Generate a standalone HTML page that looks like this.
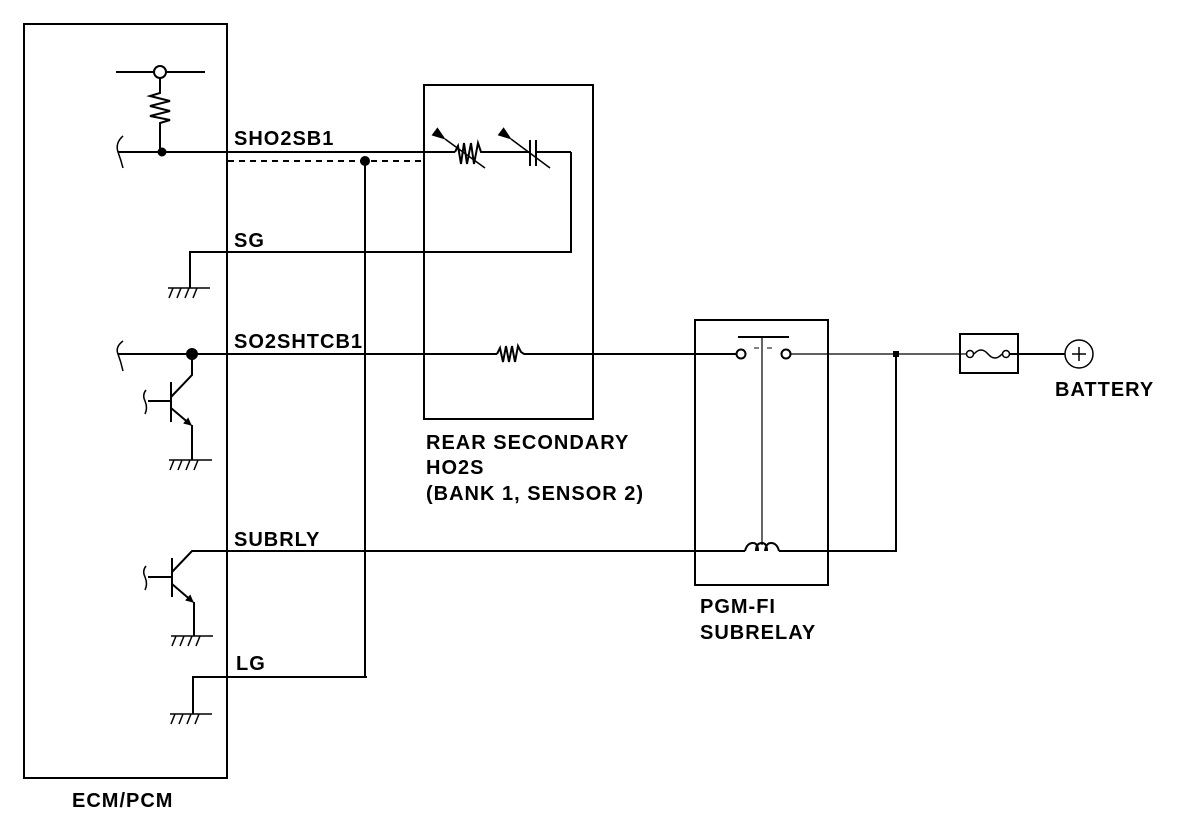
<!DOCTYPE html>
<html><head><style>
body{margin:0;background:#fff;}
svg{display:block;}
text{font-family:"Liberation Sans",Arial,sans-serif;font-weight:bold;font-size:20px;letter-spacing:1px;fill:#000;}
</style></head><body>
<svg width="1200" height="836" viewBox="0 0 1200 836" xmlns="http://www.w3.org/2000/svg">
<defs>
<marker id="ar" markerWidth="8" markerHeight="8" refX="7" refY="4" orient="auto" markerUnits="userSpaceOnUse">
<path d="M0,0 L8,4 L0,8 z" fill="#000"/></marker>
<marker id="ar2" markerWidth="14" markerHeight="10" refX="13" refY="5" orient="auto" markerUnits="userSpaceOnUse">
<path d="M0,0 L14,5 L0,10 z" fill="#000"/></marker>
</defs>
<g stroke="#000" stroke-width="2" fill="none">
<rect x="24" y="24" width="203" height="754"/>
<line x1="116" y1="72" x2="205" y2="72"/>
<circle cx="160" cy="72" r="6" fill="#fff"/>
<path d="M160,78 V93 L150,96 L170,101 L150,106 L170,111 L150,116 L170,120 L160,123 V152"/>
<circle cx="162" cy="152" r="3.5" fill="#000"/>
<path d="M123,136 Q115,143 118,152 Q121,160 123,168" stroke-width="1.5"/>
<line x1="118" y1="152" x2="455" y2="152"/>
<line x1="228" y1="161" x2="424" y2="161" stroke-dasharray="6,5"/>
<circle cx="365" cy="161" r="4" fill="#000"/>
<line x1="365" y1="161" x2="365" y2="676"/>
<rect x="424" y="85" width="169" height="334"/>
<path d="M455,152 L458,146 L461,164 L464,143 L467,164 L471,143 L474,164 L478,143 L481,152 H530"/>
<line x1="445" y1="139" x2="485" y2="168" stroke-width="1.5" marker-start="url(#ar2)"/>
<line x1="530" y1="140" x2="530" y2="166"/>
<line x1="536" y1="140" x2="536" y2="166"/>
<line x1="536" y1="152" x2="571" y2="152"/>
<line x1="511" y1="139" x2="550" y2="168" stroke-width="1.5" marker-start="url(#ar2)"/>
<polyline points="571,152 571,252 190,252 190,288"/>
<g stroke-width="1.5">
<line x1="168" y1="288" x2="210" y2="288"/><path d="M173,288 l-4,10 M181,288 l-4,10 M189,288 l-4,10 M197,288 l-4,10"/>
<line x1="169" y1="460" x2="212" y2="460"/><path d="M174,460 l-4,10 M182,460 l-4,10 M190,460 l-4,10 M198,460 l-4,10"/>
<line x1="171" y1="636" x2="213" y2="636"/><path d="M176,636 l-4,10 M184,636 l-4,10 M192,636 l-4,10 M200,636 l-4,10"/>
<line x1="170" y1="714" x2="212" y2="714"/><path d="M175,714 l-4,10 M183,714 l-4,10 M191,714 l-4,10 M199,714 l-4,10"/>
</g>
<line x1="118" y1="354" x2="497" y2="354"/>
<path d="M497,354 L500,348 L503,362 L506,346 L509,362 L512,346 L515,362 L518,346 L521,352 L524,354 H736"/>
<path d="M123,341 Q115,347 118,354 Q121,362 123,371" stroke-width="1.5"/>
<circle cx="192" cy="354" r="5" fill="#000"/>
<polyline points="192,354 192,375 171,397"/>
<line x1="171" y1="382" x2="171" y2="422"/>
<line x1="148" y1="401" x2="171" y2="401"/>
<path d="M146,390 Q142,395 145,401 Q148,408 145,414" stroke-width="1.5"/>
<line x1="171" y1="408" x2="191" y2="425" marker-end="url(#ar)"/>
<line x1="192" y1="425" x2="192" y2="460"/>
<polyline points="172,572 192,551 745,551"/>
<line x1="172" y1="558" x2="172" y2="597"/>
<line x1="148" y1="577" x2="172" y2="577"/>
<path d="M146,566 Q142,571 145,577 Q148,584 145,590" stroke-width="1.5"/>
<line x1="172" y1="584" x2="193" y2="602" marker-end="url(#ar)"/>
<line x1="194" y1="602" x2="194" y2="636"/>
<path d="M745,551 Q747,543 753,543 Q758,543 758,551 M756,551 Q756,543 762,543 Q767,543 767,551 M765,551 Q766,543 771,543 Q777,543 779,551"/>
<polyline points="779,551 896,551 896,354"/>
<polyline points="193,714 193,677 367,677"/>
<rect x="695" y="320" width="133" height="265"/>
<circle cx="741" cy="354" r="4.5" fill="#fff"/>
<circle cx="786" cy="354" r="4.5" fill="#fff"/>
<line x1="738" y1="337" x2="789" y2="337"/>
<line x1="754" y1="348" x2="759" y2="348" stroke-width="1"/>
<line x1="767" y1="348" x2="772" y2="348" stroke-width="1"/>
<line x1="762" y1="337" x2="762" y2="545" stroke-width="1.2"/>
<line x1="791" y1="354" x2="960" y2="354" stroke-width="1.2"/>
<rect x="893" y="351" width="6" height="6" fill="#000" stroke="none"/>
<rect x="960" y="334" width="58" height="39"/>
<circle cx="970" cy="354" r="3.5" fill="#fff" stroke-width="1.5"/>
<circle cx="1006" cy="354" r="3.5" fill="#fff" stroke-width="1.5"/>
<path d="M974,354 Q981,346 988,354 Q995,362 1002,354" stroke-width="1.5"/>
<line x1="960" y1="354" x2="966" y2="354" stroke-width="1.2"/>
<line x1="1010" y1="354" x2="1065" y2="354"/>
<circle cx="1079" cy="354" r="14" stroke-width="1.5"/>
<path d="M1072,354 H1086 M1079,347 V361" stroke-width="1.5"/>
</g>
<text x="234" y="145">SHO2SB1</text>
<text x="234" y="247">SG</text>
<text x="234" y="348">SO2SHTCB1</text>
<text x="234" y="546">SUBRLY</text>
<text x="236" y="670">LG</text>
<text x="426" y="449">REAR SECONDARY</text>
<text x="426" y="474">HO2S</text>
<text x="426" y="500">(BANK 1, SENSOR 2)</text>
<text x="700" y="613">PGM-FI</text>
<text x="700" y="639">SUBRELAY</text>
<text x="1055" y="396">BATTERY</text>
<text x="72" y="807">ECM/PCM</text>
</svg>
</body></html>
